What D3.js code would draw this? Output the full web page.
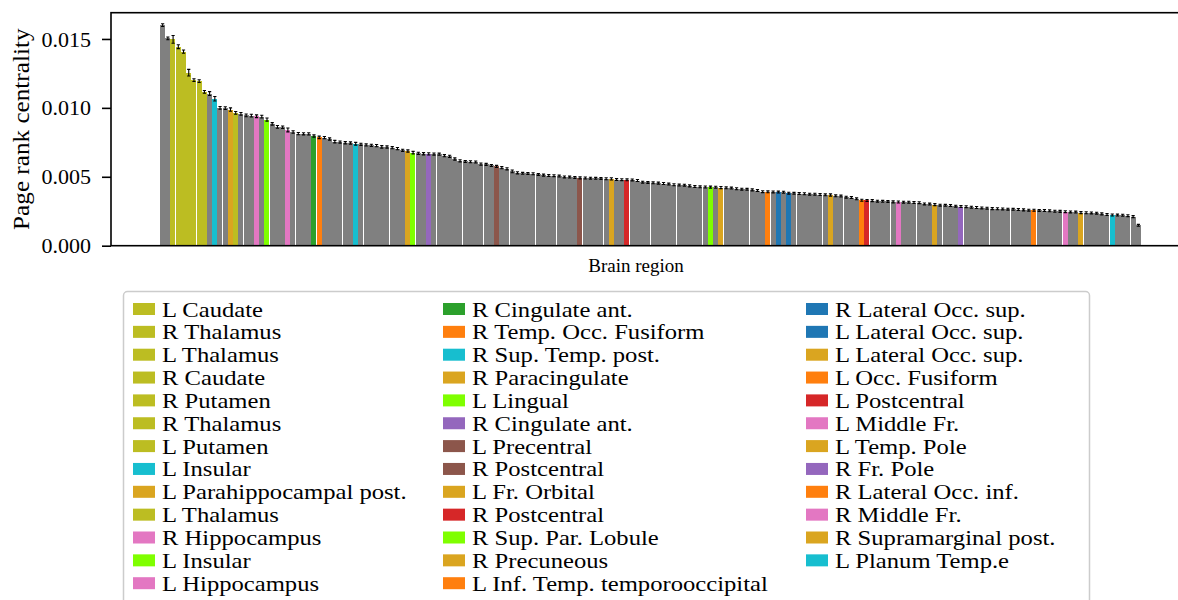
<!DOCTYPE html>
<html>
<head>
<meta charset="utf-8">
<script src="https://cdn.jsdelivr.net/npm/d3@7"></script>
<style>
  html, body { margin: 0; padding: 0; background: #fff; overflow: hidden; }
  svg { display: block; }
  text { font-family: "Liberation Serif", "DejaVu Serif", serif; fill: #000; }
</style>
</head>
<body>
<svg id="chart" width="1178" height="600"></svg>
<script>
// Page rank centrality per brain region, sorted from highest to lowest
const values = [
  0.01600, 0.01504, 0.01497, 0.01444, 0.01408, 0.01255, 0.01201, 0.01194, 0.01116, 0.01104,
  0.01066, 0.01000, 0.00998, 0.00988, 0.00964, 0.00956, 0.00946, 0.00944, 0.00939, 0.00937,
  0.00915, 0.00884, 0.00862, 0.00859, 0.00840, 0.00825, 0.00813, 0.00812, 0.00811, 0.00796,
  0.00786, 0.00784, 0.00774, 0.00755, 0.00752, 0.00747, 0.00745, 0.00740, 0.00735, 0.00731,
  0.00728, 0.00726, 0.00717, 0.00716, 0.00711, 0.00704, 0.00692, 0.00687, 0.00675, 0.00670,
  0.00667, 0.00666, 0.00665, 0.00664, 0.00653, 0.00648, 0.00629, 0.00616, 0.00611, 0.00609,
  0.00607, 0.00592, 0.00590, 0.00582, 0.00575, 0.00566, 0.00558, 0.00539, 0.00529, 0.00525,
  0.00524, 0.00522, 0.00517, 0.00512, 0.00509, 0.00508, 0.00505, 0.00499, 0.00498, 0.00495,
  0.00492, 0.00491, 0.00490, 0.00489, 0.00488, 0.00486, 0.00485, 0.00480, 0.00479, 0.00478,
  0.00477, 0.00473, 0.00461, 0.00459, 0.00456, 0.00454, 0.00451, 0.00447, 0.00442, 0.00440,
  0.00439, 0.00434, 0.00429, 0.00427, 0.00426, 0.00425, 0.00424, 0.00422, 0.00420, 0.00418,
  0.00413, 0.00410, 0.00409, 0.00405, 0.00400, 0.00392, 0.00391, 0.00390, 0.00389, 0.00388,
  0.00381, 0.00380, 0.00378, 0.00377, 0.00374, 0.00373, 0.00371, 0.00369, 0.00368, 0.00362,
  0.00360, 0.00352, 0.00349, 0.00340, 0.00330, 0.00328, 0.00327, 0.00323, 0.00322, 0.00321,
  0.00318, 0.00317, 0.00316, 0.00315, 0.00313, 0.00312, 0.00303, 0.00302, 0.00298, 0.00294,
  0.00293, 0.00291, 0.00287, 0.00284, 0.00283, 0.00279, 0.00277, 0.00274, 0.00272, 0.00269,
  0.00268, 0.00267, 0.00265, 0.00264, 0.00262, 0.00260, 0.00258, 0.00257, 0.00256, 0.00255,
  0.00253, 0.00250, 0.00249, 0.00247, 0.00245, 0.00244, 0.00240, 0.00239, 0.00238, 0.00236,
  0.00231, 0.00226, 0.00223, 0.00222, 0.00221, 0.00218, 0.00211, 0.00148
];

// Half-width of the error bar for each region
const errors = [
  0.00010, 0.00010, 0.00028, 0.00014, 0.00012, 0.00024, 0.00010, 0.00010, 0.00010, 0.00014,
  0.00016, 0.00010, 0.00010, 0.00012, 0.00010, 0.00010, 0.00010, 0.00010, 0.00010, 0.00010,
  0.00011, 0.00009, 0.00010, 0.00009, 0.00014, 0.00009, 0.00008, 0.00008, 0.00008, 0.00008,
  0.00009, 0.00008, 0.00008, 0.00009, 0.00008, 0.00008, 0.00008, 0.00010, 0.00008, 0.00008,
  0.00008, 0.00008, 0.00009, 0.00008, 0.00008, 0.00008, 0.00008, 0.00008, 0.00009, 0.00008,
  0.00008, 0.00008, 0.00008, 0.00008, 0.00008, 0.00008, 0.00008, 0.00008, 0.00007, 0.00007,
  0.00007, 0.00008, 0.00007, 0.00007, 0.00008, 0.00008, 0.00008, 0.00010, 0.00008, 0.00007,
  0.00007, 0.00007, 0.00007, 0.00007, 0.00007, 0.00007, 0.00007, 0.00007, 0.00007, 0.00007,
  0.00007, 0.00007, 0.00007, 0.00007, 0.00007, 0.00007, 0.00008, 0.00007, 0.00007, 0.00007,
  0.00007, 0.00007, 0.00007, 0.00007, 0.00007, 0.00007, 0.00007, 0.00007, 0.00007, 0.00007,
  0.00007, 0.00007, 0.00007, 0.00007, 0.00007, 0.00007, 0.00007, 0.00008, 0.00007, 0.00007,
  0.00007, 0.00007, 0.00007, 0.00007, 0.00007, 0.00007, 0.00007, 0.00007, 0.00007, 0.00007,
  0.00007, 0.00007, 0.00007, 0.00007, 0.00007, 0.00007, 0.00007, 0.00007, 0.00008, 0.00007,
  0.00007, 0.00007, 0.00007, 0.00007, 0.00007, 0.00007, 0.00007, 0.00007, 0.00007, 0.00007,
  0.00007, 0.00007, 0.00007, 0.00007, 0.00007, 0.00007, 0.00007, 0.00007, 0.00007, 0.00007,
  0.00007, 0.00007, 0.00007, 0.00007, 0.00007, 0.00007, 0.00007, 0.00007, 0.00007, 0.00007,
  0.00007, 0.00007, 0.00007, 0.00007, 0.00007, 0.00007, 0.00007, 0.00007, 0.00007, 0.00007,
  0.00007, 0.00007, 0.00007, 0.00007, 0.00007, 0.00007, 0.00007, 0.00007, 0.00007, 0.00007,
  0.00007, 0.00007, 0.00007, 0.00007, 0.00007, 0.00007, 0.00007, 0.00007
];

// Highlighted regions: rank in the sorted list (1-based), name and colour
const highlightRanks = [
  3, 4, 5, 6, 7, 8, 9, 11, 14, 15, 19, 21, 25,
  30, 31, 38, 48, 49, 52, 65, 81, 87, 90, 106, 108, 117,
  119, 121, 129, 135, 136, 142, 149, 154, 168, 174, 177, 183
];
const highlightLabels = [
  "L Caudate", "R Thalamus", "L Thalamus", "R Caudate", "R Putamen", "R Thalamus",
  "L Putamen", "L Insular", "L Parahippocampal post.", "L Thalamus", "R Hippocampus",
  "L Insular", "L Hippocampus",
  "R Cingulate ant.", "R Temp. Occ. Fusiform", "R Sup. Temp. post.", "R Paracingulate",
  "L Lingual", "R Cingulate ant.", "L Precentral", "R Postcentral", "L Fr. Orbital",
  "R Postcentral", "R Sup. Par. Lobule", "R Precuneous", "L Inf. Temp. temporooccipital",
  "R Lateral Occ. sup.", "L Lateral Occ. sup.", "L Lateral Occ. sup.", "L Occ. Fusiform",
  "L Postcentral", "L Middle Fr.", "L Temp. Pole", "R Fr. Pole", "R Lateral Occ. inf.",
  "R Middle Fr.", "R Supramarginal post.", "L Planum Temp.e"
];
const highlightColors = [
  "#bcbd22", "#bcbd22", "#bcbd22", "#bcbd22", "#bcbd22", "#bcbd22", "#bcbd22",
  "#17becf", "#daa520", "#bcbd22", "#e377c2", "#7fff00", "#e377c2",
  "#2ca02c", "#ff7f0e", "#17becf", "#daa520", "#7fff00", "#9467bd", "#8c564b",
  "#8c564b", "#daa520", "#d62728", "#7fff00", "#daa520", "#ff7f0e",
  "#1f77b4", "#1f77b4", "#daa520", "#ff7f0e", "#d62728", "#e377c2", "#daa520",
  "#9467bd", "#ff7f0e", "#e377c2", "#daa520", "#17becf"
];
const baseColor = "#808080";
const yTicks = [0, 0.005, 0.010, 0.015];

const svg = d3.select("#chart");
const plot = { left: 111, right: 1190, top: 12.7, bottom: 245.7 };
const n = values.length;
// Liberation Serif is narrower than a Computer Modern face; widen the letters a little
const wide = 1.12;

// matplotlib-style 5% horizontal margins around the bars
const x = d3.scaleLinear()
  .domain([-0.5 - 0.05 * n, n - 0.5 + 0.05 * n])
  .range([plot.left, plot.right]);
const yMax = d3.max(values, (v, i) => v + errors[i]) * 1.05;
const y = d3.scaleLinear().domain([0, yMax]).range([plot.bottom, plot.top]);

const colorByRank = new Map(highlightRanks.map((r, k) => [r - 1, highlightColors[k]]));
const step = x(1) - x(0);
const data = values.map((v, i) => ({ i, v, e: errors[i], c: colorByRank.get(i) || baseColor }));

// Bars (snapped to whole pixels)
svg.append("g").attr("shape-rendering", "crispEdges")
  .selectAll("rect").data(data).join("rect")
  .attr("x", d => Math.round(x(d.i - 0.5)))
  .attr("width", Math.floor(step))
  .attr("y", d => y(d.v))
  .attr("height", d => y(0) - y(d.v))
  .attr("fill", d => d.c);

// Error bars with caps
const eb = svg.append("g").attr("stroke", "#000").attr("stroke-width", 1.1).attr("fill", "none");
const ebPath = d => {
  const cx = x(d.i), y0 = y(d.v - d.e), y1 = y(d.v + d.e), w = 1.6;
  return `M${cx},${y0}V${y1}M${cx - w},${y0}H${cx + w}M${cx - w},${y1}H${cx + w}`;
};
eb.selectAll("path").data(data).join("path").attr("d", ebPath);

// Axes frame
const axisColor = "#000";
const yAxis = d3.axisLeft(y).tickValues(yTicks).tickFormat(d3.format(".3f"))
  .tickSize(9).tickPadding(11);
const gy = svg.append("g").attr("transform", `translate(${plot.left},0)`).call(yAxis);
gy.select(".domain").remove();
gy.selectAll(".tick line").attr("stroke", axisColor).attr("stroke-width", 1.6);
gy.selectAll(".tick text").attr("font-size", 22)
  .style("font-family", '"Liberation Serif", "DejaVu Serif", serif').attr("fill", "#000");

svg.append("rect")
  .attr("x", plot.left).attr("y", plot.top)
  .attr("width", plot.right - plot.left).attr("height", plot.bottom - plot.top)
  .attr("fill", "none").attr("stroke", axisColor).attr("stroke-width", 1.6);

// Axis titles
svg.append("text")
  .attr("transform", `translate(21,${(plot.top + plot.bottom) / 2}) rotate(-90) scale(${wide},1)`)
  .attr("text-anchor", "middle").attr("dominant-baseline", "central")
  .attr("font-size", 22.5).text("Page rank centrality");
svg.append("text")
  .attr("x", 636).attr("y", 265)
  .attr("text-anchor", "middle").attr("dominant-baseline", "central")
  .attr("font-size", 19).text("Brain region");

// Legend: three columns filled top-to-bottom
const legend = svg.append("g");
legend.append("rect")
  .attr("x", 123.5).attr("y", 291.5).attr("width", 966).attr("height", 400)
  .attr("rx", 4).attr("fill", "#fff").attr("stroke", "#cccccc").attr("stroke-width", 1.5);

const rowsPerCol = 13;
const colX = [133, 443, 806];
const rowY0 = 309, rowStep = 22.85;
const items = highlightLabels.map((label, k) => ({
  label, color: highlightColors[k],
  col: Math.floor(k / rowsPerCol), row: k % rowsPerCol
}));
const li = legend.selectAll("g.item").data(items).join("g")
  .attr("class", "item")
  .attr("transform", d => `translate(${colX[d.col]},${rowY0 + d.row * rowStep})`);
li.append("rect").attr("x", 0).attr("y", -6).attr("width", 22).attr("height", 12)
  .attr("fill", d => d.color);
li.append("text")
  .attr("transform", `translate(29,0) scale(${wide},1)`)
  .attr("dominant-baseline", "central")
  .attr("font-size", 22).text(d => d.label);
</script>
</body>
</html>
